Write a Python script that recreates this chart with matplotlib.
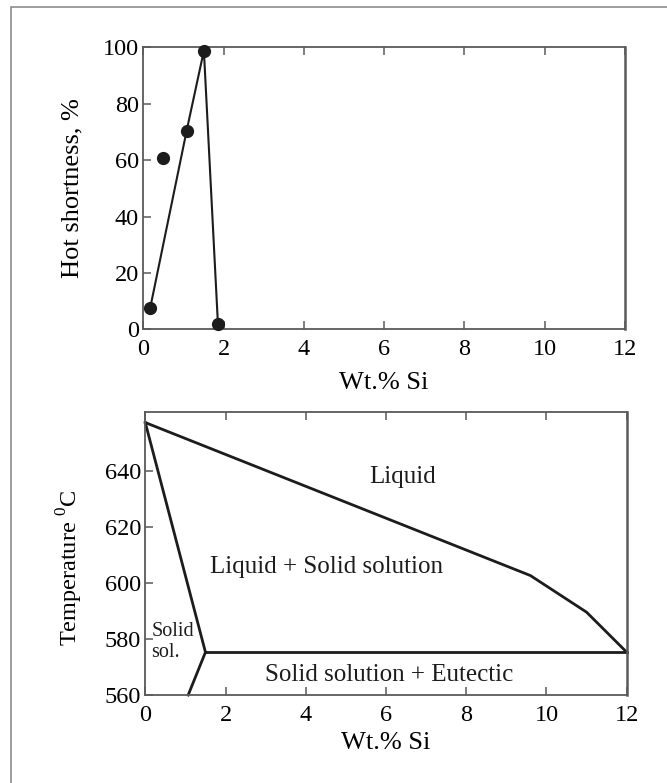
import matplotlib
matplotlib.use("Agg")
import matplotlib.pyplot as plt
from matplotlib.patches import Rectangle

plt.rcParams["font.family"] = ["Liberation Serif", "DejaVu Serif"]
plt.rcParams["mathtext.fontset"] = "custom"
plt.rcParams["mathtext.rm"] = "Liberation Serif"

# hot shortness vs silicon content
si_hs = [0.17, 0.5, 1.08, 1.51, 1.86]
hot_shortness = [7.4, 60.6, 70.4, 98.8, 1.8]
trend_idx = [0, 2, 3, 4]

# Al-Si phase diagram (Al-rich side)
liquidus_si = [0.0, 9.6, 11.0, 12.0]
liquidus_t = [657.4, 602.7, 589.6, 575.3]
solidus_si = [0.0, 1.5]
solidus_t = [657.4, 575.3]
eutectic_si = [1.5, 12.0]
eutectic_t = [575.3, 575.3]
solvus_si = [1.5, 1.07]
solvus_t = [575.3, 560.0]

x_ticks = [0, 2, 4, 6, 8, 10, 12]
hs_ticks = [0, 20, 40, 60, 80, 100]
t_ticks = [560, 580, 600, 620, 640]

TICK_FS = 17.5
LABEL_FS = 19
SPINE = "#5a5a5a"
INK = "#1c1c1c"

fig = plt.figure(figsize=(6.67, 7.83), dpi=100)

# thin grey frame around the figure
fig.patches.append(Rectangle((10.7 / 667, -0.05), 1.2, (783 - 7.3) / 783 + 0.05,
                             transform=fig.transFigure, fill=False,
                             edgecolor="#8c8c8c", linewidth=1.2))


def style_axes(ax):
    for s in ax.spines.values():
        s.set_color(SPINE)
        s.set_linewidth(1.3)
    ax.spines["right"].set_linewidth(1.8)
    ax.tick_params(axis="x", direction="in", top=True, bottom=True,
                   length=6, width=1.1, color=SPINE, labelsize=TICK_FS, pad=7)
    ax.tick_params(axis="y", direction="in", left=True, right=False,
                   length=6, width=1.1, color=SPINE, labelsize=TICK_FS, pad=3)


ax1 = fig.add_axes([0.2148, 0.5794, 0.7222, 0.3602])
ax1.plot([si_hs[i] for i in trend_idx], [hot_shortness[i] for i in trend_idx],
         color=INK, linewidth=1.5, zorder=2)
ax1.plot(si_hs, hot_shortness, "o", color=INK, markersize=8.5, zorder=3,
         clip_on=False)
ax1.set_xlim(0, 12)
ax1.set_ylim(0, 100)
ax1.set_xticks(x_ticks)
ax1.set_yticks(hs_ticks)
ax1.set_xlabel("Wt.% Si", fontsize=LABEL_FS)
ax1.set_ylabel("Hot shortness, %", fontsize=LABEL_FS)
ax1.xaxis.set_label_coords(0.5, -0.15)
ax1.yaxis.set_label_coords(-0.125, 0.5)
style_axes(ax1)

ax2 = fig.add_axes([0.2178, 0.1124, 0.7218, 0.3608])
for xs, ts in [(liquidus_si, liquidus_t), (solidus_si, solidus_t),
               (eutectic_si, eutectic_t), (solvus_si, solvus_t)]:
    ax2.plot(xs, ts, color=INK, linewidth=2.0, solid_joinstyle="miter",
             clip_on=False)
ax2.set_xlim(0, 12)
ax2.set_ylim(560, 661)
ax2.set_xticks(x_ticks)
ax2.set_yticks(t_ticks)
ax2.set_xlabel("Wt.% Si", fontsize=LABEL_FS)
ax2.set_ylabel("Temperature $^{\\mathregular{0}}$C", fontsize=17.5)
ax2.xaxis.set_label_coords(0.5, -0.13)
ax2.yaxis.set_label_coords(-0.125, 0.45)
style_axes(ax2)

ax2.text(6.41, 638, "Liquid", fontsize=18, ha="center", va="center", color=INK)
ax2.text(4.52, 605.9, "Liquid + Solid solution", fontsize=18,
         ha="center", va="center", color=INK)
ax2.text(6.07, 567.2, "Solid solution + Eutectic", fontsize=18,
         ha="center", va="center", color=INK)
ax2.text(0.15, 579, "Solid\nsol.", fontsize=14.5, ha="left", va="center",
         linespacing=1.15, color=INK)

fig.savefig("out.png", dpi=100)
